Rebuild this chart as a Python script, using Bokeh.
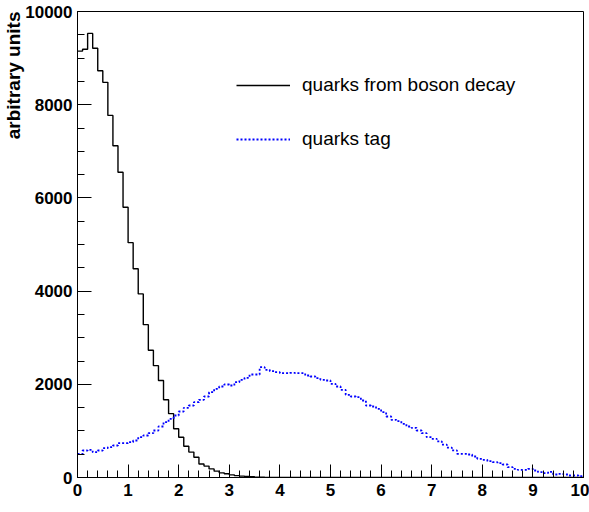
import numpy as np
from bokeh.plotting import figure
from bokeh.models import FixedTicker, Legend, LegendItem, Range1d, Title
from bokeh.embed import file_html
from bokeh.resources import INLINE

# ---- data (100 bins of width 0.1 from 0 to 10) ----
bin_edges = list(np.round(np.linspace(0, 10, 101), 2))

boson_counts = [
    9150, 9190, 9530, 9210, 8730, 8480, 7770, 7120, 6550, 5800,
    5040, 4480, 3940, 3280, 2730, 2400, 2080, 1670, 1370, 1045,
    865, 670, 545, 435, 290, 245, 185, 136, 100, 79,
    57, 40, 30, 22, 15, 8, 5, 3, 2, 1,
    1, 0, 0, 0, 0, 0, 0, 0, 0, 0,
    0, 0, 0, 0, 0, 0, 0, 0, 0, 0,
    0, 0, 0, 0, 0, 0, 0, 0, 0, 0,
    0, 0, 0, 0, 0, 0, 0, 0, 0, 0,
    0, 0, 0, 0, 0, 0, 0, 0, 0, 0,
    0, 0, 0, 0, 0, 0, 0, 0, 0, 0,
]

tag_counts = [
    508, 579, 594, 543, 579, 629, 650, 687, 736, 736,
    758, 794, 865, 901, 951, 1009, 1094, 1187, 1260, 1330,
    1416, 1496, 1545, 1616, 1667, 1738, 1831, 1903, 1953, 1996,
    1974, 2045, 2096, 2139, 2210, 2210, 2367, 2311, 2281, 2260,
    2238, 2238, 2245, 2238, 2238, 2189, 2167, 2131, 2096, 2082,
    2010, 1953, 1882, 1775, 1738, 1723, 1652, 1545, 1524, 1474,
    1401, 1309, 1238, 1208, 1152, 1094, 1066, 1009, 951, 865,
    830, 776, 705, 640, 580, 508, 508, 494, 451, 401,
    380, 350, 328, 307, 279, 221, 186, 165, 165, 186,
    150, 114, 92, 122, 64, 79, 64, 43, 43, 28,
]

series_labels = ["quarks from boson decay", "quarks tag"]
y_title = "arbitrary units"
x_major_ticks = [0, 1, 2, 3, 4, 5, 6, 7, 8, 9, 10]
x_minor_ticks = [round(i * 0.2, 1) for i in range(51)]
y_major_ticks = [0, 2000, 4000, 6000, 8000, 10000]
y_minor_ticks = list(range(0, 10001, 500))

TICK_FONT = "'Liberation Sans Narrow', 'Liberation Sans', sans-serif"

p = figure(width=589, height=512,
           x_range=Range1d(0, 10), y_range=Range1d(0, 10000),
           output_backend="svg", toolbar_location=None,
           min_border_left=77, min_border_right=6,
           min_border_top=11, min_border_bottom=35)
p.xgrid.visible = False
p.ygrid.visible = False
p.outline_line_color = "black"
p.outline_line_width = 1
p.background_fill_color = "white"
p.border_fill_color = "white"

r1 = p.step(x=bin_edges, y=boson_counts + [boson_counts[-1]], mode="after",
            line_color="black", line_width=1.4)
r2 = p.step(x=bin_edges, y=tag_counts + [tag_counts[-1]], mode="after",
            line_color="blue", line_width=1.8, line_dash="2 2")

# axes
xa = p.xaxis[0]
xa.ticker = FixedTicker(ticks=x_major_ticks, minor_ticks=x_minor_ticks)
xa.major_tick_in = 13
xa.major_tick_out = 0
xa.minor_tick_in = 7
xa.minor_tick_out = 0
xa.axis_line_color = "black"
xa.major_tick_line_color = "black"
xa.minor_tick_line_color = "black"
xa.major_label_text_font = TICK_FONT
xa.major_label_text_font_style = "bold"
xa.major_label_text_font_size = "17px"
xa.major_label_text_color = "black"
xa.major_label_standoff = 6

ya = p.yaxis[0]
ya.ticker = FixedTicker(ticks=y_major_ticks, minor_ticks=y_minor_ticks)
ya.major_tick_in = 14
ya.major_tick_out = 0
ya.minor_tick_in = 7
ya.minor_tick_out = 0
ya.axis_line_color = "black"
ya.major_tick_line_color = "black"
ya.minor_tick_line_color = "black"
ya.major_label_text_font = TICK_FONT
ya.major_label_text_font_style = "bold"
ya.major_label_text_font_size = "17px"
ya.major_label_text_color = "black"
ya.major_label_standoff = 5
ya.axis_label_standoff = 0

# y axis title at the top end of the axis (ROOT style)
ytitle = Title(text=y_title, align="right", vertical_align="bottom",
               text_font="Liberation Sans", text_font_style="bold",
               text_font_size="19px", text_color="black",
               standoff=-3, offset=0)
p.add_layout(ytitle, "left")

legend = Legend(items=[LegendItem(label=series_labels[0], renderers=[r1]),
                       LegendItem(label=series_labels[1], renderers=[r2])],
                location=(159, 327), orientation="vertical",
                border_line_color=None, background_fill_alpha=0,
                padding=0, margin=0, glyph_width=54, glyph_height=20,
                label_height=20, spacing=32, label_standoff=12,
                label_text_font="Liberation Sans", label_text_font_size="19px",
                label_text_color="black")
p.add_layout(legend)

open("out.html", "w").write(file_html(p, INLINE))
